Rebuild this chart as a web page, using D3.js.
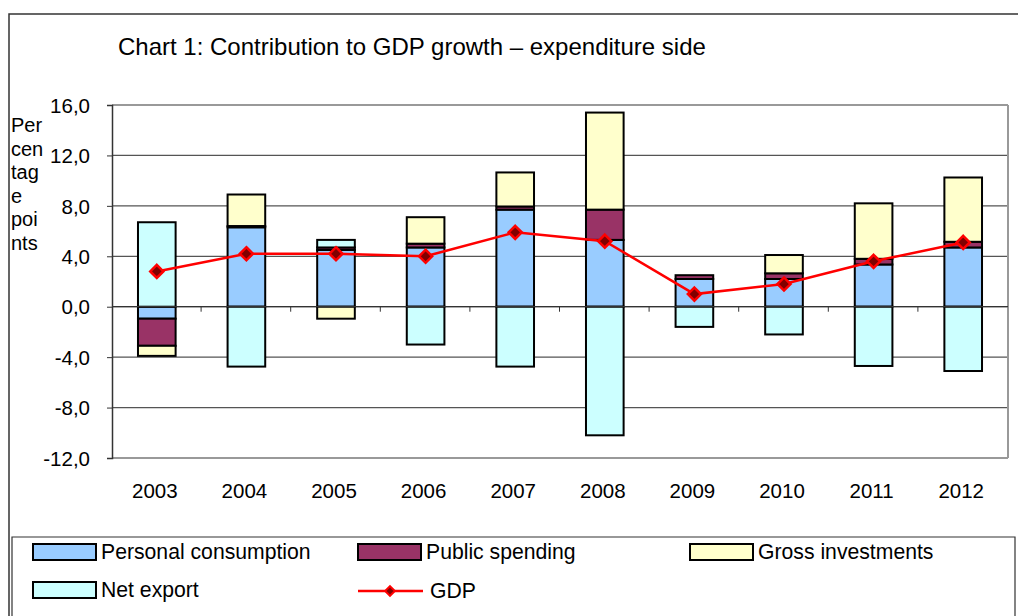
<!DOCTYPE html>
<html><head><meta charset="utf-8">
<script src="https://cdn.jsdelivr.net/npm/d3@7"></script>
<style>body{margin:0;background:#fff}svg{display:block;font-family:"Liberation Sans",Arial,sans-serif}</style>
</head><body><svg id="c" width="1018" height="616"></svg>
<script>
const years = ["2003","2004","2005","2006","2007","2008","2009","2010","2011","2012"];
const personalConsumption = [-0.95, 6.3, 4.5, 4.7, 7.7, 5.3, 2.2, 2.2, 3.35, 4.7];
const publicSpending = [-2.15, 0.1, 0.2, 0.3, 0.25, 2.4, 0.3, 0.45, 0.45, 0.45];
const grossInvestments = [-0.8, 2.5, -0.95, 2.1, 2.7, 7.7, 0.0, 1.45, 4.4, 5.1];
const netExport = [6.7, -4.75, 0.6, -3.0, -4.75, -10.2, -1.6, -2.2, -4.7, -5.1];
const gdp = [2.8, 4.2, 4.2, 4.0, 5.9, 5.2, 1.0, 1.8, 3.6, 5.1];
const yTicks = [-12, -8, -4, 0, 4, 8, 12, 16];
const seriesNames = ["Personal consumption","Public spending","Gross investments","Net export"];
const seriesColors = ["#99CCFF","#993366","#FFFFCC","#CCFFFF"];
const series = [personalConsumption, publicSpending, grossInvestments, netExport];

const svg = d3.select("#c");
const L = 112, R = 1008, T = 105, B = 458;
const x = d3.scaleBand().domain(years).range([L, R]).paddingInner(0.58).paddingOuter(0.29);
const y = d3.scaleLinear().domain([-12, 16]).range([B, T]);

// outer frame
svg.append("path").attr("d", `M9,616 V14 H1018`).attr("fill","none").attr("stroke","#333").attr("stroke-width",1.5);

// title
svg.append("text").attr("x",118).attr("y",55).attr("font-size",24).attr("fill","#000")
  .text("Chart 1: Contribution to GDP growth \u2013 expenditure side");

// gridlines
svg.append("g").selectAll("line").data(yTicks.filter(t=>t>-12)).join("line")
  .attr("x1",L).attr("x2",R).attr("y1",d=>y(d)).attr("y2",d=>y(d))
  .attr("stroke",d=>d===16?"#999":"#555").attr("stroke-width",d=>d===16?2:1.2);
svg.append("line").attr("x1",R).attr("x2",R).attr("y1",T).attr("y2",B).attr("stroke","#999").attr("stroke-width",2);
svg.append("line").attr("x1",L).attr("x2",R).attr("y1",B).attr("y2",B).attr("stroke","#999").attr("stroke-width",2);

// y axis
const ya = d3.axisLeft(y).tickValues(yTicks).tickSize(5).tickFormat(d=>d3.format(".1f")(d).replace(".",",").replace("\u2212","-"));
const yg = svg.append("g").attr("transform",`translate(${L},0)`).call(ya);
yg.select(".domain").attr("stroke","#333").attr("stroke-width",1.5);
yg.selectAll(".tick line").attr("stroke","#333");
yg.selectAll("text").attr("font-size",20.5).attr("font-family","Liberation Sans, Arial, sans-serif").attr("fill","#000").attr("x",-22).attr("dy","0.35em");

// axis label
const lab = ["Per","cen","tag","e","poi","nts"];
svg.append("g").selectAll("text").data(lab).join("text")
  .attr("x",11).attr("y",(d,i)=>132+i*23.6).attr("font-size",20).text(d=>d);

// stacked bars (separate pos/neg stacks)
const gBars = svg.append("g");
years.forEach((yr, i) => {
  let pos = 0, neg = 0;
  series.forEach((s, k) => {
    const v = s[i];
    if (v === 0) return;
    let y0, y1;
    if (v > 0) { y0 = pos; y1 = pos + v; pos = y1; } else { y0 = neg; y1 = neg + v; neg = y1; }
    gBars.append("rect").attr("x", x(yr)).attr("width", x.bandwidth())
      .attr("y", y(Math.max(y0,y1))).attr("height", Math.abs(y(y0)-y(y1)))
      .attr("fill", seriesColors[k]).attr("stroke","#000").attr("stroke-width",2);
  });
});

// zero-axis category ticks
svg.append("g").selectAll("line").data(years.slice(1)).join("line")
  .attr("x1",d=>x(d)-x.step()*0.29-0.5).attr("x2",d=>x(d)-x.step()*0.29-0.5)
  .attr("y1",y(0)).attr("y2",y(0)+5).attr("stroke","#333");
svg.append("line").attr("x1",L).attr("x2",R).attr("y1",y(0)).attr("y2",y(0)).attr("stroke","#333").attr("stroke-width",1.2);

// x labels
svg.append("g").selectAll("text").data(years).join("text")
  .attr("x",d=>x(d)+x.bandwidth()/2-2).attr("y",498).attr("text-anchor","middle").attr("font-size",20.5).text(d=>d);

// GDP line
const cx = i => x(years[i]) + x.bandwidth()/2;
svg.append("path").datum(gdp).attr("fill","none").attr("stroke","#FF0000").attr("stroke-width",2.5)
  .attr("d", d3.line().x((d,i)=>cx(i)).y(d=>y(d)));
svg.append("g").selectAll("path").data(gdp).join("path")
  .attr("d", d3.symbol(d3.symbolDiamond2, 110))
  .attr("transform",(d,i)=>`translate(${cx(i)},${y(d)})`)
  .attr("fill","#800000").attr("stroke","#FF0000").attr("stroke-width",2.5);

// legend
svg.append("path").attr("d","M12,616 V537 H1015 V616").attr("fill","none").attr("stroke","#333").attr("stroke-width",1.2);
const leg = [
  {name:seriesNames[0], c:seriesColors[0], x:33, y:544},
  {name:seriesNames[1], c:seriesColors[1], x:358, y:544},
  {name:seriesNames[2], c:seriesColors[2], x:690, y:544},
  {name:seriesNames[3], c:seriesColors[3], x:33, y:582}
];
leg.forEach(l => {
  svg.append("rect").attr("x",l.x).attr("y",l.y).attr("width",63).attr("height",16).attr("fill",l.c).attr("stroke","#000").attr("stroke-width",2);
  svg.append("text").attr("x",l.x+68).attr("y",l.y+15).attr("font-size",21.2).text(l.name);
});
svg.append("line").attr("x1",358).attr("x2",423).attr("y1",591).attr("y2",591).attr("stroke","#FF0000").attr("stroke-width",2.5);
svg.append("path").attr("d", d3.symbol(d3.symbolDiamond2, 60)).attr("transform","translate(390,591)")
  .attr("fill","#800000").attr("stroke","#FF0000").attr("stroke-width",2);
svg.append("text").attr("x",430).attr("y",598).attr("font-size",21.2).text("GDP");
</script></body></html>
